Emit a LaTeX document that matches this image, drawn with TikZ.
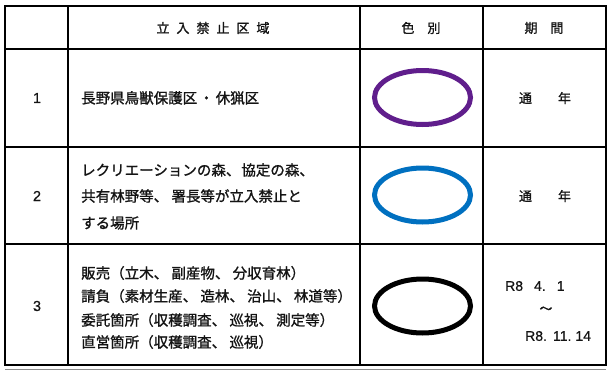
\documentclass[tikz,border=0pt]{standalone}
\usepackage{fontspec}
\setmainfont{Noto Sans CJK JP}[FakeBold=1.2]
\newfontfamily\latinfont{Liberation Sans}[FakeBold=0.6]
\definecolor{ringpurple}{RGB}{96,30,140}
\definecolor{ringblue}{RGB}{0,112,192}
\definecolor{inkcol}{RGB}{20,20,20}
\begin{document}
\begin{tikzpicture}[x=1pt,y=-1pt,
  gridline/.style={line width=1.3pt, black},
  ring/.style={line width=5pt},
  body/.style={inner sep=0pt, anchor=west, text=inkcol, font=\fontsize{14.5}{17}\selectfont},
  head/.style={inner sep=0pt, text=inkcol, font=\fontsize{13}{15}\selectfont},
  num/.style={inner sep=0pt, text=inkcol, font=\latinfont\fontsize{14.5}{16}\selectfont},
  per/.style={inner sep=0pt, anchor=west, text=inkcol, font=\latinfont\fontsize{14}{16}\selectfont}]
\useasboundingbox (0,0) rectangle (608,370);
% table grid
\draw[gridline] (5,6) rectangle (606,365);
\draw[line width=1pt, black!45] (5,369) -- (606,369);
\foreach \x in {68,360,483} \draw[gridline] (\x,6) -- (\x,365);
\foreach \y in {49,147,244} \draw[gridline] (5,\y) -- (606,\y);
% header
\node[head] (h1) at (213,28) {立\kern7pt 入\kern7pt 禁\kern7pt 止\kern7pt 区\kern7pt 域};
\node[head] (h2) at (421,28) {色\kern13pt 別};
\node[head] (h3) at (544,28) {期\kern13pt 間};
% numbers
\node[num] (n1) at (37,98) {1};
\node[num] (n2) at (37,196) {2};
\node[num] (n3) at (37,306) {3};
% row 1
\node[body] (r1) at (81,98) {長野県鳥獣保護区\kern2pt・\kern2pt 休猟区};
\node[head] (p1) at (545,98) {通\kern26pt 年};
\draw[ring, draw=ringpurple] (422.5,97.5) ellipse [x radius=48, y radius=27];
% row 2
\node[body] (r2a) at (81,170) {レクリエーションの森、\kern1pt 協定の森、};
\node[body] (r2b) at (81,196) {共有林野等、 署長等が立入禁止と};
\node[body] (r2c) at (81,223) {する場所};
\node[head] (p2) at (545,196) {通\kern26pt 年};
\draw[ring, draw=ringblue] (422.5,195) ellipse [x radius=48, y radius=27];
% row 3
\node[body] (r3a) at (81,273) {販売（立木、 副産物、 分収育林）};
\node[body] (r3b) at (81,296) {請負（素材生産、 造林、 治山、 林道等）};
\node[body] (r3c) at (81,320) {委託箇所（収穫調査、 巡視、 測定等）};
\node[body] (r3d) at (81,342) {直営箇所（収穫調査、 巡視）};
\draw[ring, draw=black] (422.5,306) ellipse [x radius=48, y radius=27];
\node[per] (d1) at (505,286) {R8\kern11pt 4.\kern11pt 1};
\node[head] (d2) at (546,310) {～};
\node[per] (d3) at (525,336) {R8.\kern6pt 11.\kern4pt 14};
\end{tikzpicture}
\end{document}
